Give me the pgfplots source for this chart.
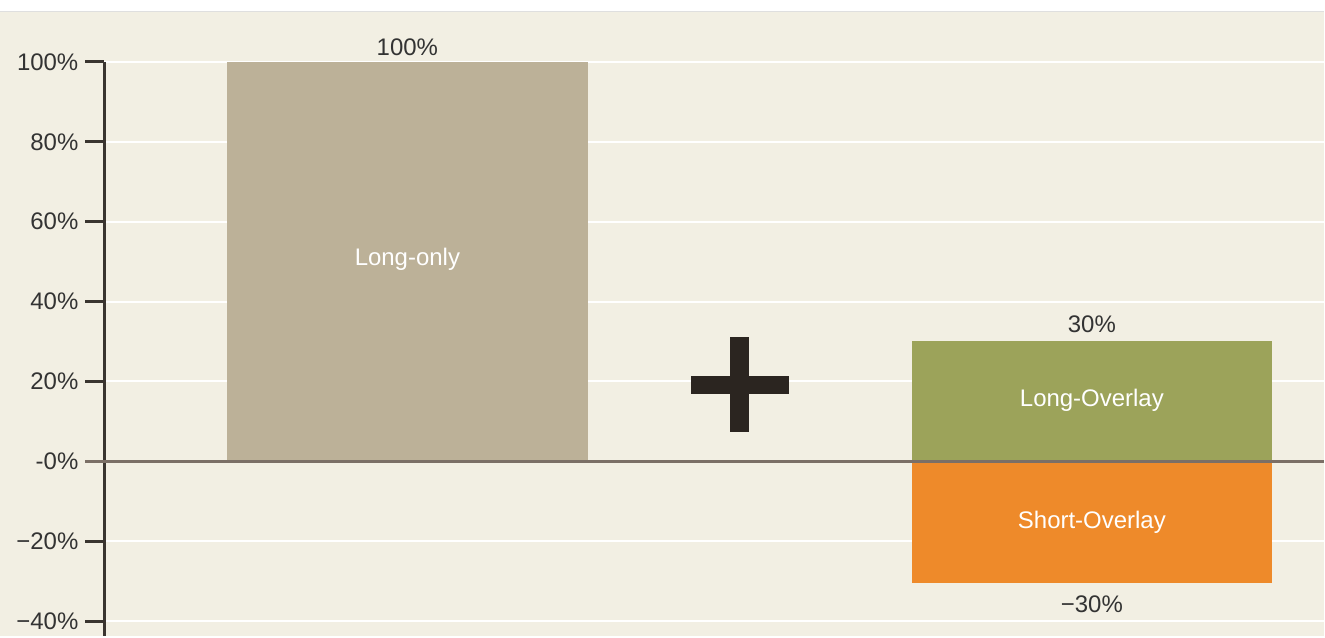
\documentclass[border=0pt]{standalone}
\usepackage{pgfplots}
\pgfplotsset{compat=1.18}
\usepackage{fontspec}
\setmainfont{Liberation Sans}

\definecolor{bgcol}{HTML}{F2EFE3}
\definecolor{longonly}{HTML}{BCB198}
\definecolor{longov}{HTML}{9CA35A}
\definecolor{shortov}{HTML}{EE8A2A}
\definecolor{axisdark}{HTML}{3A3530}
\definecolor{zerocol}{HTML}{7B6F66}
\definecolor{plusdark}{HTML}{2B2520}
\definecolor{txt}{HTML}{333333}

\begin{document}
\begin{tikzpicture}
  % background: white strip on top, beige panel below (1 px = 0.5pt)
  \fill[white] (0pt,312.5pt) rectangle (662.5pt,318.5pt);
  \fill[bgcol] (0pt,0pt) rectangle (662.5pt,312.5pt);
  \draw[gray!25, line width=0.5pt] (0pt,312.5pt) -- (662.5pt,312.5pt);

  \begin{axis}[
      at={(52pt,0pt)}, anchor=south west,
      scale only axis,
      width=610.5pt, height=312.5pt,
      xmin=104, xmax=1325,
      ymin=-43.75, ymax=112.5,
      axis x line=none,
      axis y line*=left,
      y axis line style={draw=none},
      ytick={-40,-20,0,20,40,60,80,100},
      yticklabels={−40\%,−20\%,-0\%,20\%,40\%,60\%,80\%,100\%},
      tick align=outside,
      major tick length=9.5pt,
      ytick style={draw=axisdark, line width=1.5pt},
      ymajorgrids,
      grid style={white, line width=1pt},
      tick label style={font=\fontsize{12}{14}\selectfont, text=txt},
      clip=false,
      ybar, bar width=361,
    ]
    \addplot[fill=longonly, draw=none, bar shift=0] coordinates {(407.5,100)};
    \addplot[fill=longov, draw=none, bar shift=0] coordinates {(1093,30)};
    \addplot[fill=shortov, draw=none, bar shift=0] coordinates {(1093,-30.5)};

    % y axis line from 100% down to the bottom
    \draw[axisdark, line width=1.5pt] (axis cs:104,100) -- (axis cs:104,-43.75);
    % zero line
    \draw[zerocol, line width=1.5pt] (axis cs:85,0) -- (axis cs:1325,0);

    % plus sign
    \fill[plusdark] (axis cs:692,16.75) rectangle (axis cs:790,21.25);
    \fill[plusdark] (axis cs:731,7.25) rectangle (axis cs:750,31);

    % labels
    \begin{scope}[font=\fontsize{12}{14}\selectfont]
      \node[text=txt] at (axis cs:407.5,103.75) {100\%};
      \node[text=white] at (axis cs:407.5,50.5) {Long-only};
      \node[text=txt] at (axis cs:1093,34.25) {30\%};
      \node[text=white] at (axis cs:1093,15.25) {Long-Overlay};
      \node[text=white] at (axis cs:1093,-15.25) {Short-Overlay};
      \node[text=txt] at (axis cs:1093,-35.75) {−30\%};
    \end{scope}
  \end{axis}
\end{tikzpicture}
\end{document}
